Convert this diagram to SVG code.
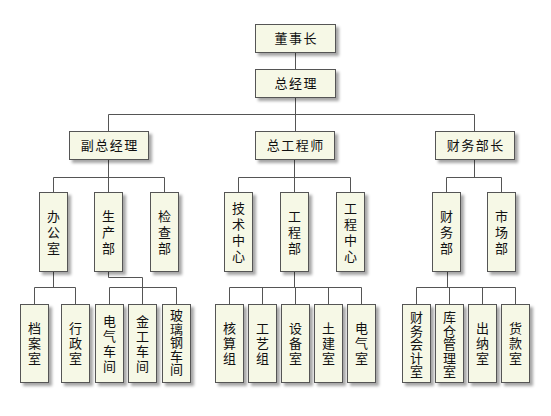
<svg xmlns="http://www.w3.org/2000/svg" width="551" height="416" viewBox="0 0 551 416">
<defs>
<filter id="sh" x="-30%" y="-30%" width="160%" height="160%">
<feDropShadow dx="3" dy="3" stdDeviation="1.6" flood-color="#000" flood-opacity="0.35"/>
</filter>
</defs>
<style>
.b{fill:#f6f8e6;stroke:#555;stroke-width:1;filter:url(#sh)}
.t{font-family:"Noto Sans CJK SC","Noto Sans",sans-serif;font-size:13px;fill:#111;text-anchor:middle}
.h{letter-spacing:1.5px}
.c{fill:none;stroke:#555;stroke-width:1}
</style>
<rect width="551" height="416" fill="#fff"/>
<g id="connectors" class="c">
<path d="M295.5 52V69M295.5 97V114.5M108.5 114.5H474.5M108.5 114.5V131M295.5 114.5V131M474.5 114.5V131"/>
<path d="M108.5 159V177.5M53.5 177.5H164.5M53.5 177.5V192M108.5 177.5V192M164.5 177.5V192"/>
<path d="M294.5 159V177.5M238.5 177.5H350.5M238.5 177.5V192M294.5 177.5V192M350.5 177.5V192"/>
<path d="M474.5 159V177.5M446.5 177.5H501.5M446.5 177.5V192M501.5 177.5V192"/>
<path d="M53.5 271V287.5M34.5 287.5H75.5M34.5 287.5V304M75.5 287.5V304"/>
<path d="M108.5 271V277.5H142.5V287.5M109.5 287.5H176.5M109.5 287.5V304M142.5 287.5V304M176.5 287.5V304"/>
<path d="M294.5 271V287.5M229.5 287.5H361.5M229.5 287.5V304M262.5 287.5V304M295.5 287.5V304M328.5 287.5V304M361.5 287.5V304"/>
<path d="M447.5 271V287.5M416.5 287.5H515.5M416.5 287.5V304M449.5 287.5V304M482.5 287.5V304M515.5 287.5V304"/>
</g>
<g id="n0"><rect class="b" x="255.5" y="24.5" width="80" height="28"/><text class="t h" x="296.3" y="43">董事长</text></g>
<g id="n1"><rect class="b" x="255.5" y="69.5" width="80" height="28"/><text class="t h" x="296.3" y="88">总经理</text></g>
<g id="n2"><rect class="b" x="69.5" y="131.5" width="79" height="28"/><text class="t h" x="109.8" y="150">副总经理</text></g>
<g id="n3"><rect class="b" x="255.5" y="131.5" width="79" height="28"/><text class="t h" x="295.8" y="150">总工程师</text></g>
<g id="n4"><rect class="b" x="435.5" y="131.5" width="79" height="28"/><text class="t h" x="475.8" y="150">财务部长</text></g>
<g id="n5"><rect class="b" x="39.5" y="192.5" width="28" height="79"/><text class="t" y="220.5"><tspan x="53.5">办</tspan><tspan x="53.5" dy="16">公</tspan><tspan x="53.5" dy="16">室</tspan></text></g>
<g id="n6"><rect class="b" x="94.5" y="192.5" width="28" height="79"/><text class="t" y="220.5"><tspan x="108.5">生</tspan><tspan x="108.5" dy="16">产</tspan><tspan x="108.5" dy="16">部</tspan></text></g>
<g id="n7"><rect class="b" x="150.5" y="192.5" width="28" height="79"/><text class="t" y="220.5"><tspan x="164.5">检</tspan><tspan x="164.5" dy="16">查</tspan><tspan x="164.5" dy="16">部</tspan></text></g>
<g id="n8"><rect class="b" x="224.5" y="192.5" width="28" height="79"/><text class="t" y="212.5"><tspan x="238.5">技</tspan><tspan x="238.5" dy="16">术</tspan><tspan x="238.5" dy="16">中</tspan><tspan x="238.5" dy="16">心</tspan></text></g>
<g id="n9"><rect class="b" x="280.5" y="192.5" width="28" height="79"/><text class="t" y="220.5"><tspan x="294.5">工</tspan><tspan x="294.5" dy="16">程</tspan><tspan x="294.5" dy="16">部</tspan></text></g>
<g id="n10"><rect class="b" x="336.5" y="192.5" width="28" height="79"/><text class="t" y="212.5"><tspan x="350.5">工</tspan><tspan x="350.5" dy="16">程</tspan><tspan x="350.5" dy="16">中</tspan><tspan x="350.5" dy="16">心</tspan></text></g>
<g id="n11"><rect class="b" x="432.5" y="192.5" width="28" height="79"/><text class="t" y="220.5"><tspan x="446.5">财</tspan><tspan x="446.5" dy="16">务</tspan><tspan x="446.5" dy="16">部</tspan></text></g>
<g id="n12"><rect class="b" x="487.5" y="192.5" width="28" height="79"/><text class="t" y="220.5"><tspan x="501.5">市</tspan><tspan x="501.5" dy="16">场</tspan><tspan x="501.5" dy="16">部</tspan></text></g>
<g id="n13"><rect class="b" x="20.5" y="304.5" width="28" height="78"/><text class="t" y="333"><tspan x="34.5">档</tspan><tspan x="34.5" dy="15">案</tspan><tspan x="34.5" dy="15">室</tspan></text></g>
<g id="n14"><rect class="b" x="61.5" y="304.5" width="28" height="78"/><text class="t" y="333"><tspan x="75.5">行</tspan><tspan x="75.5" dy="15">政</tspan><tspan x="75.5" dy="15">室</tspan></text></g>
<g id="n15"><rect class="b" x="95.5" y="304.5" width="28" height="78"/><text class="t" y="325.5"><tspan x="109.5">电</tspan><tspan x="109.5" dy="15">气</tspan><tspan x="109.5" dy="15">车</tspan><tspan x="109.5" dy="15">间</tspan></text></g>
<g id="n16"><rect class="b" x="128.5" y="304.5" width="28" height="78"/><text class="t" y="325.5"><tspan x="142.5">金</tspan><tspan x="142.5" dy="15">工</tspan><tspan x="142.5" dy="15">车</tspan><tspan x="142.5" dy="15">间</tspan></text></g>
<g id="n17"><rect class="b" x="162.5" y="304.5" width="28" height="78"/><text class="t" y="320"><tspan x="176.5">玻</tspan><tspan x="176.5" dy="13.5">璃</tspan><tspan x="176.5" dy="13.5">钢</tspan><tspan x="176.5" dy="13.5">车</tspan><tspan x="176.5" dy="13.5">间</tspan></text></g>
<g id="n18"><rect class="b" x="215.5" y="304.5" width="28" height="78"/><text class="t" y="333"><tspan x="229.5">核</tspan><tspan x="229.5" dy="15">算</tspan><tspan x="229.5" dy="15">组</tspan></text></g>
<g id="n19"><rect class="b" x="248.5" y="304.5" width="28" height="78"/><text class="t" y="333"><tspan x="262.5">工</tspan><tspan x="262.5" dy="15">艺</tspan><tspan x="262.5" dy="15">组</tspan></text></g>
<g id="n20"><rect class="b" x="281.5" y="304.5" width="28" height="78"/><text class="t" y="333"><tspan x="295.5">设</tspan><tspan x="295.5" dy="15">备</tspan><tspan x="295.5" dy="15">室</tspan></text></g>
<g id="n21"><rect class="b" x="314.5" y="304.5" width="28" height="78"/><text class="t" y="333"><tspan x="328.5">土</tspan><tspan x="328.5" dy="15">建</tspan><tspan x="328.5" dy="15">室</tspan></text></g>
<g id="n22"><rect class="b" x="347.5" y="304.5" width="28" height="78"/><text class="t" y="333"><tspan x="361.5">电</tspan><tspan x="361.5" dy="15">气</tspan><tspan x="361.5" dy="15">室</tspan></text></g>
<g id="n23"><rect class="b" x="402.5" y="304.5" width="28" height="78"/><text class="t" y="322"><tspan x="416.5">财</tspan><tspan x="416.5" dy="13.5">务</tspan><tspan x="416.5" dy="13.5">会</tspan><tspan x="416.5" dy="13.5">计</tspan><tspan x="416.5" dy="13.5">室</tspan></text></g>
<g id="n24"><rect class="b" x="435.5" y="304.5" width="28" height="78"/><text class="t" y="322"><tspan x="449.5">库</tspan><tspan x="449.5" dy="13.5">仓</tspan><tspan x="449.5" dy="13.5">管</tspan><tspan x="449.5" dy="13.5">理</tspan><tspan x="449.5" dy="13.5">室</tspan></text></g>
<g id="n25"><rect class="b" x="468.5" y="304.5" width="28" height="78"/><text class="t" y="333"><tspan x="482.5">出</tspan><tspan x="482.5" dy="15">纳</tspan><tspan x="482.5" dy="15">室</tspan></text></g>
<g id="n26"><rect class="b" x="501.5" y="304.5" width="28" height="78"/><text class="t" y="333"><tspan x="515.5">货</tspan><tspan x="515.5" dy="15">款</tspan><tspan x="515.5" dy="15">室</tspan></text></g>
</svg>
